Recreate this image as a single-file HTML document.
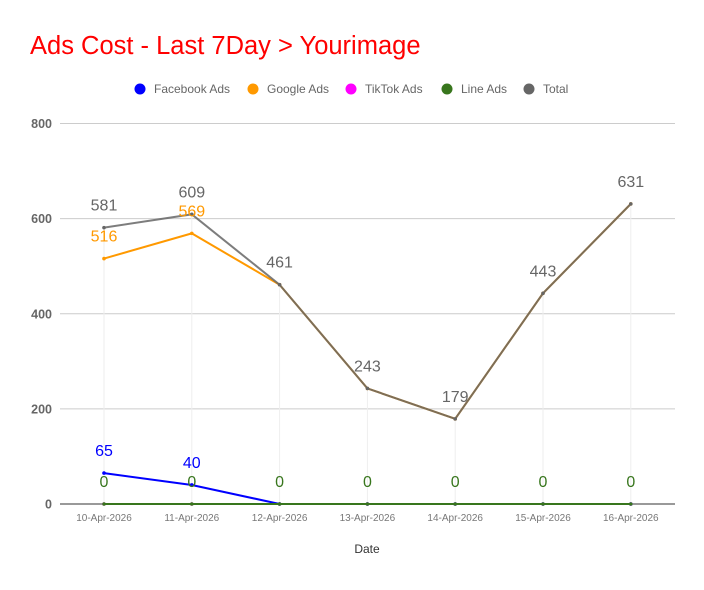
<!DOCTYPE html>
<html><head><meta charset="utf-8"><style>
body{margin:0;background:#fff;font-family:"Liberation Sans",Arial,sans-serif}
</style></head><body>
<svg id="c" width="704" height="585" xmlns="http://www.w3.org/2000/svg">
<text x="30" y="54" font-size="25.5" fill="#ff0000">Ads Cost - Last 7Day &gt; Yourimage</text>
<g id="legend"></g>
<g id="grid"></g><g id="lines"></g><g id="labels"></g>
<text x="367" y="553" font-size="12" fill="#333" text-anchor="middle">Date</text>
</svg>
<script>
const categories=["10-Apr-2026","11-Apr-2026","12-Apr-2026","13-Apr-2026","14-Apr-2026","15-Apr-2026","16-Apr-2026"];
const facebook=[65,40,0,0,0,0,0];
const google=[516,569,461,243,179,443,631];
const tiktok=[0,0,0,0,0,0,0];
const lineAds=[0,0,0,0,0,0,0];
const total=[581,609,461,243,179,443,631];
const yTicks=[0,200,400,600,800];
const NS="http://www.w3.org/2000/svg";
const X0=104,DX=87.8,Y0=504,YS=380.5/800;
const x=i=>X0+i*DX, y=v=>Y0-v*YS;
function mk(t,a,p){const e=document.createElementNS(NS,t);for(const k in a)e.setAttribute(k,a[k]);document.getElementById(p).appendChild(e);return e;}
const leg=[["Facebook Ads","#0000ff",140],["Google Ads","#ff9900",253],["TikTok Ads","#ff00ff",351],["Line Ads","#38761d",447],["Total","#666666",529]];
leg.forEach(l=>{
  const c=mk("circle",{cx:l[2],cy:89,r:5.5,fill:l[1]},"legend");
  
  
  const t=mk("text",{x:l[2]+14,y:93,"font-size":12,fill:"#666"},"legend");t.textContent=l[0];
  
  
});
yTicks.forEach(v=>{
  const g=mk("line",{x1:60,x2:675,y1:y(v),y2:y(v),stroke:v==0?"#333":"#ccc","stroke-width":1},"grid");
  
  
  const t=mk("text",{x:52,y:y(v)+4.5,"font-size":12.5,"font-weight":"bold",fill:"#666","text-anchor":"end"},"grid");t.textContent=v;
  
  
});
categories.forEach((c,i)=>{
  const t=mk("text",{x:x(i),y:521,"font-size":10,fill:"#777","text-anchor":"middle"},"grid");t.textContent=c;
  
  
  const l=mk("line",{x1:x(i),x2:x(i),y1:y(total[i])+2,y2:Y0,stroke:"#eee","stroke-width":1},"grid");
  
  
});
function series(arr,col,name,op){
  const p=mk("polyline",{points:arr.map((v,i)=>x(i)+","+y(v)).join(" "),fill:"none",stroke:col,"stroke-width":2,"stroke-opacity":op},"lines");
  
  
  arr.forEach((v,i)=>{const d=mk("circle",{cx:x(i),cy:y(v),r:1.8,fill:col},"lines");
    
    });
}
series(tiktok,"#ff00ff","tiktok",1);
series(facebook,"#0000ff","facebook",1);
series(lineAds,"#38761d","line-ads",1);
series(google,"#ff9900","google",1);
series(total,"#666666","total",0.85);
function lbl(v,i,col,dy,name){
  const t=mk("text",{x:x(i),y:y(v)+dy,"font-size":16,fill:col,"text-anchor":"middle"},"labels");t.textContent=v;
  
  
}
total.forEach((v,i)=>lbl(v,i,"#666",-17,"total"));
google.forEach((v,i)=>{if(Math.abs(v-total[i])>20)lbl(v,i,"#ff9900",-17,"google");});
facebook.forEach((v,i)=>{if(v>0)lbl(v,i,"#0000ff",-17,"facebook");});
lineAds.forEach((v,i)=>lbl(v,i,"#38761d",-17,"line-ads"));
</script>
</body></html>
